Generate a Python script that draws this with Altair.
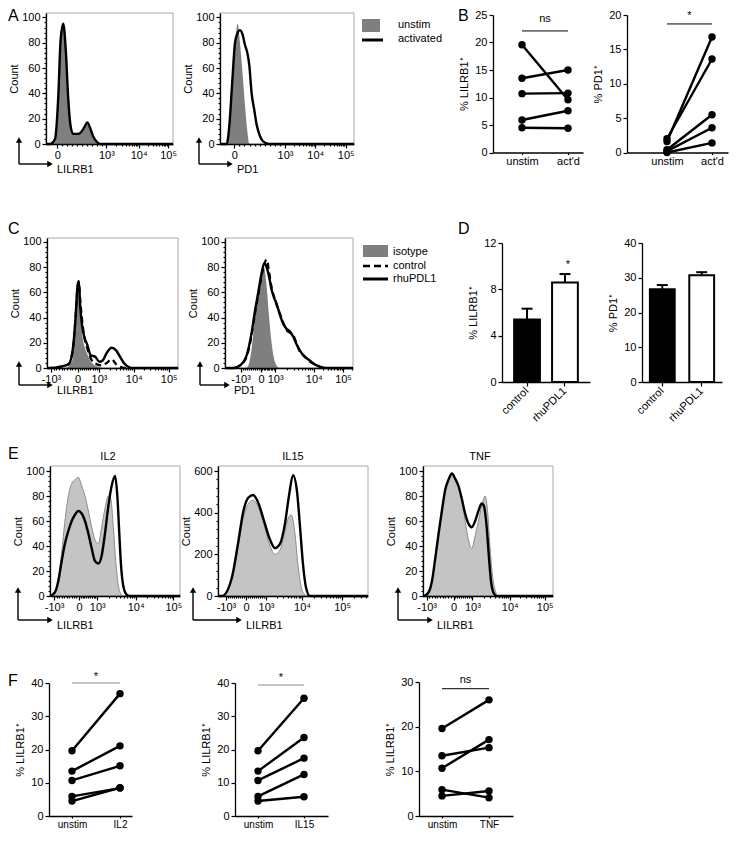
import math
import altair as alt
import pandas as pd

# ===================== DATA =====================
# Histogram x values are display channels (0-1000 across each plot frame), y = count

# --- A: LILRB1 (left) and PD1 (right), unstim (filled) vs activated (line)
A1_UNSTIM_X = [0, 31, 71, 97, 115, 136, 157, 175, 194, 215, 254, 288, 306, 325, 346, 372, 398, 424, 1000]
A1_UNSTIM_Y = [0, 0, 5, 40, 80, 94, 70, 35, 15, 9, 8, 10, 13, 15, 12, 6, 2, 0, 0]
A1_ACT_X = [0, 31, 71, 97, 115, 136, 157, 175, 194, 215, 254, 288, 306, 325, 346, 372, 398, 424, 1000]
A1_ACT_Y = [0, 0, 4, 38, 82, 95, 72, 36, 14, 8, 8, 11, 14, 17, 13, 6, 2, 0, 0]
A2_UNSTIM_X = [0, 50, 75, 100, 117, 132, 149, 169, 187, 204, 219, 1000]
A2_UNSTIM_Y = [0, 0, 20, 60, 85, 95, 80, 55, 30, 10, 0, 0]
A2_ACT_X = [0, 50, 70, 92, 112, 129, 149, 167, 187, 204, 219, 236, 254, 274, 299, 336, 373, 1000]
A2_ACT_Y = [0, 0, 15, 50, 80, 87, 90, 87, 78, 72, 62, 40, 28, 15, 6, 1, 0, 0]

A_LABELS = ["0", "10³", "10⁴", "10⁵"]
A1_TICKS = [89, 476, 730, 961]
A2_TICKS = [107, 485, 711, 938]

# --- C: isotype (filled), control (dashed), rhuPDL1 (solid)
C1_ISO_X = [0, 139, 190, 208, 223, 235, 243, 253, 266, 284, 304, 329, 354, 392, 430, 1000]
C1_ISO_Y = [0, 0, 5, 20, 45, 65, 68, 55, 30, 18, 12, 6, 3, 1, 0, 0]
C1_RHU_X = [0, 25, 101, 165, 197, 218, 233, 243, 253, 266, 284, 309, 334, 367, 400, 425, 456, 494, 527, 557, 587, 620, 646, 1000]
C1_RHU_Y = [0, 0, 1, 3, 15, 40, 65, 69, 50, 35, 25, 18, 10, 9, 5, 6, 12, 16, 14, 9, 4, 1, 0, 0]
C1_CTL_X = [0, 25, 101, 165, 197, 218, 233, 243, 253, 266, 284, 309, 342, 380, 418, 456, 494, 527, 557, 600, 1000]
C1_CTL_Y = [0, 0, 1, 3, 14, 40, 64, 68, 55, 40, 25, 15, 6, 3, 2, 4, 7, 3, 1, 0, 0]
C2_ISO_X = [0, 169, 208, 234, 260, 286, 304, 325, 345, 364, 382, 403, 423, 1000]
C2_ISO_Y = [0, 0, 15, 40, 60, 73, 80, 65, 40, 20, 8, 2, 0, 0]
C2_RHU_X = [0, 65, 117, 169, 208, 234, 260, 286, 306, 325, 345, 364, 382, 403, 429, 455, 481, 506, 532, 558, 584, 623, 662, 700, 740, 792, 1000]
C2_RHU_Y = [0, 0, 2, 10, 28, 45, 60, 75, 83, 80, 72, 62, 56, 51, 42, 35, 31, 29, 25, 19, 14, 9, 6, 3, 1, 0, 0]
C2_CTL_X = [0, 65, 117, 169, 208, 234, 260, 286, 306, 325, 345, 364, 382, 403, 429, 455, 481, 506, 532, 558, 584, 623, 662, 700, 740, 792, 1000]
C2_CTL_Y = [0, 0, 2, 9, 26, 43, 58, 73, 82, 86, 76, 64, 57, 50, 43, 36, 30, 28, 26, 20, 13, 9, 5, 3, 1, 0, 0]

C_LABELS = ["-10³", "0", "10³", "10⁴", "10⁵"]
C1_TICKS = [30, 233, 397, 663, 929]
C2_TICKS = [122, 281, 392, 694, 922]

# --- E: unstim (filled) vs cytokine (line)
E1_UN_X = [0, 38, 64, 90, 115, 141, 167, 192, 218, 244, 269, 295, 321, 346, 372, 397, 423, 449, 467, 487, 508, 526, 544, 564, 1000]
E1_UN_Y = [0, 3, 15, 35, 60, 80, 90, 93, 95, 88, 80, 68, 55, 45, 42, 55, 70, 80, 78, 55, 25, 8, 2, 0, 0]
E1_IL2_X = [0, 38, 64, 90, 115, 141, 167, 192, 218, 244, 269, 295, 321, 346, 372, 397, 423, 449, 474, 500, 518, 533, 546, 564, 590, 615, 1000]
E1_IL2_Y = [0, 3, 12, 28, 42, 52, 60, 65, 68, 66, 60, 50, 38, 28, 26, 32, 50, 72, 88, 96, 80, 50, 25, 8, 1, 0, 0]
E2_UN_X = [0, 27, 93, 133, 167, 200, 233, 267, 307, 347, 380, 413, 440, 467, 487, 513, 533, 553, 573, 600, 1000]
E2_UN_Y = [0, 0, 80, 230, 370, 440, 460, 430, 340, 240, 200, 220, 290, 370, 390, 300, 150, 50, 10, 0, 0]
E2_IL15_X = [0, 27, 93, 133, 167, 200, 233, 267, 307, 347, 380, 413, 447, 473, 500, 527, 547, 567, 587, 613, 1000]
E2_IL15_Y = [0, 0, 90, 250, 400, 470, 485, 450, 360, 270, 230, 250, 350, 480, 580, 500, 330, 150, 40, 0, 0]
E3_UN_X = [0, 5, 43, 69, 94, 120, 145, 171, 196, 222, 247, 273, 298, 324, 349, 375, 401, 426, 452, 477, 495, 515, 533, 554, 579, 1000]
E3_UN_Y = [0, 0, 3, 12, 30, 50, 68, 85, 93, 97, 93, 88, 78, 60, 45, 38, 48, 60, 72, 80, 70, 40, 18, 5, 0, 0]
E3_TNF_X = [0, 5, 43, 69, 94, 120, 145, 171, 196, 222, 247, 273, 298, 324, 349, 375, 401, 426, 452, 469, 490, 508, 523, 541, 566, 1000]
E3_TNF_Y = [0, 0, 3, 12, 30, 50, 68, 85, 93, 98, 94, 88, 78, 66, 58, 55, 60, 68, 74, 72, 55, 30, 12, 3, 0, 0]

E1_TICKS = [31, 223, 364, 659, 949]
E2_TICKS = [53, 187, 320, 560, 827]
E3_TICKS = [28, 235, 380, 668, 936]

# --- B / F: paired donors (% LILRB1+ / % PD1+)
UNSTIM_LILRB1 = [19.6, 13.5, 10.7, 5.9, 4.5]
ACTD_LILRB1 = [9.6, 15.0, 10.8, 7.6, 4.4]
UNSTIM_PD1 = [1.6, 2.0, 0.4, 0.2, 0.0]
ACTD_PD1 = [16.8, 13.6, 5.5, 3.6, 1.4]
IL2_LILRB1 = [36.8, 21.1, 15.1, 8.4, 8.5]
IL15_LILRB1 = [35.4, 23.6, 17.4, 12.5, 5.8]
TNF_LILRB1 = [26.0, 15.3, 17.1, 4.1, 5.6]

# --- D: bars (mean, SEM)
D_CATS = ["control", "rhuPDL1"]
D1_MEAN = [5.4, 8.6]
D1_SEM = [0.93, 0.72]
D2_MEAN = [26.7, 30.7]
D2_SEM = [1.2, 0.9]

# ===================== LAYOUT / STYLE =====================
OFF = 8
W, H = 721, 825
FONT = "Liberation Sans"
DARK_GRAY = "#7f7f7f"
LIGHT_GRAY = "#c4c4c4"
ONE = pd.DataFrame({"k": [0]})


def P(v):
    return v - OFF


def label_expr(vals, labels):
    expr = '""'
    for v, l in reversed(list(zip(vals, labels))):
        expr = f'datum.value == {v} ? "{l}" : ({expr})'
    return expr


def minor_positions(ticks):
    """Minor tick channels of a log-like cytometry axis, derived from its major ticks."""
    if len(ticks) == 5:
        tneg, t0, t3, t4, t5 = ticks
    else:
        tneg = None
        t0, t3, t4, t5 = ticks
    pos = []
    for v in range(100, 1000, 100):
        pos.append(t0 + v / 1000 * (t3 - t0))
        if tneg is not None:
            pos.append(t0 - v / 1000 * (t0 - tneg))
    for a, b in [(t3, t4), (t4, t5)]:
        for m in range(2, 10):
            pos.append(a + math.log10(m) * (b - a))
    for m in range(2, 10):
        p = t5 + math.log10(m) * (t5 - t4)
        if p < 1000:
            pos.append(p)
    return [round(p, 1) for p in pos if 0 <= p <= 1000]


def hist_panel(x0, x1, ybase, ytop, ymax, ymajor, yminor, xticks, xlabels,
               fills, lines, fill_color, fill_stroke=None):
    xs = alt.Scale(domain=[0, 1000], range=[P(x0), P(x1)])
    ys = alt.Scale(domain=[0, ymax], range=[P(ybase), P(ytop)])
    out = []
    out.append(alt.Chart(ONE).mark_rect(fillOpacity=0, stroke="#a8a8a8", strokeWidth=1).encode(
        x=alt.XDatum(0, scale=xs, axis=None), x2=alt.X2Datum(1000),
        y=alt.YDatum(ymax, scale=ys, axis=None), y2=alt.Y2Datum(0)))
    for fx, fy in fills:
        df = pd.DataFrame({"x": fx, "y": fy})
        if fill_stroke:
            m = alt.Chart(df).mark_area(fill=fill_color, stroke=fill_stroke, strokeWidth=1, interpolate="monotone")
        else:
            m = alt.Chart(df).mark_area(fill=fill_color, interpolate="monotone")
        out.append(m.encode(x=alt.X("x:Q", scale=xs, axis=None),
                            y=alt.Y("y:Q", scale=ys, axis=None)))
    for lx, ly, dashed in lines:
        df = pd.DataFrame({"x": lx, "y": ly})
        if dashed:
            m = alt.Chart(df).mark_line(color="black", strokeWidth=2.2, strokeDash=[6, 4], interpolate="monotone")
        else:
            m = alt.Chart(df).mark_line(color="black", strokeWidth=2.4, interpolate="monotone")
        out.append(m.encode(x=alt.X("x:Q", scale=xs, axis=None),
                            y=alt.Y("y:Q", scale=ys, axis=None)))
    xaxis = alt.Axis(values=xticks, labelExpr=label_expr(xticks, xlabels), orient="bottom",
                     offset=P(ybase) - H, tickSize=4, labelPadding=1, title=None,
                     labelFlush=False, labelOverlap=False, zindex=3)
    yaxis = alt.Axis(values=ymajor, orient="left", offset=-P(x0), tickSize=4, labelPadding=2,
                     title="Count", titlePadding=2, zindex=3)
    out.append(alt.Chart(ONE).mark_point(opacity=0).encode(
        x=alt.XDatum(0, scale=xs, axis=xaxis), y=alt.YDatum(0, scale=ys, axis=yaxis)))
    xminax = alt.Axis(values=minor_positions(xticks), orient="bottom", offset=P(ybase) - H,
                      tickSize=2, labels=False, domain=False, title=None, zindex=3)
    yminax = alt.Axis(values=yminor, orient="left", offset=-P(x0), tickSize=2, labels=False,
                      domain=False, title=None, zindex=3)
    out.append(alt.Chart(ONE).mark_point(opacity=0).encode(
        x=alt.XDatum(0, scale=xs, axis=xminax), y=alt.YDatum(0, scale=ys, axis=yminax)))
    return out


def pair_panel(unstim, stim, labels, yaxis_x, xend, cx0, cx1, ybase, ytop, ymax, yticks,
               ytitle, sig_y, sig_text, sig_text_y, sig_color, xlabel_size=11):
    k = cx1 - cx0
    xs = alt.Scale(domain=[(yaxis_x - cx0) / k, (xend - cx0) / k], range=[P(yaxis_x), P(xend)])
    ys = alt.Scale(domain=[0, ymax], range=[P(ybase), P(ytop)])
    n = len(unstim)
    df = pd.DataFrame({"donor": list(range(n)) * 2, "cond": [0] * n + [1] * n,
                       "value": list(unstim) + list(stim)})
    xaxis = alt.Axis(values=[0, 1], labelExpr=label_expr([0, 1], labels), orient="bottom",
                     offset=P(ybase) - H, tickSize=2, labelPadding=1, title=None,
                     labelFlush=False, labelFontSize=xlabel_size, zindex=3)
    yaxis = alt.Axis(values=yticks, orient="left", offset=-P(yaxis_x), tickSize=4, labelPadding=2,
                     title=ytitle, titlePadding=5, zindex=3)
    out = []
    out.append(alt.Chart(df).mark_line(color="black", strokeWidth=2.4).encode(
        x=alt.X("cond:Q", scale=xs, axis=xaxis), y=alt.Y("value:Q", scale=ys, axis=yaxis),
        detail="donor:N"))
    out.append(alt.Chart(df).mark_circle(color="black", size=55, opacity=1).encode(
        x=alt.X("cond:Q", scale=xs, axis=None), y=alt.Y("value:Q", scale=ys, axis=None)))
    out.append(alt.Chart(ONE).mark_rule(color=sig_color, strokeWidth=1).encode(
        x=alt.XDatum(0, scale=xs, axis=None), x2=alt.X2Datum(1),
        y=alt.YDatum(sig_y, scale=ys, axis=None)))
    out.append(alt.Chart(ONE).mark_text(text=sig_text, font=FONT, fontSize=11, baseline="middle").encode(
        x=alt.XDatum(0.5, scale=xs, axis=None), y=alt.YDatum(sig_text_y, scale=ys, axis=None)))
    return out


def bar_panel(means, sems, x0, x1, pin, pout, ybase, ytop, ymax, yticks, ytitle, star_y=None):
    xs = alt.Scale(domain=D_CATS, range=[P(x0), P(x1)], paddingInner=pin, paddingOuter=pout)
    ys = alt.Scale(domain=[0, ymax], range=[P(ybase), P(ytop)])
    df = pd.DataFrame({"cat": D_CATS, "mean": means, "top": [m + s for m, s in zip(means, sems)]})
    xaxis = alt.Axis(orient="bottom", offset=P(ybase) - H, labelAngle=315, labelAlign="right",
                     labelBaseline="middle", tickSize=4, labelPadding=3, title=None, zindex=3)
    yaxis = alt.Axis(values=yticks, orient="left", offset=-P(x0), tickSize=4, labelPadding=2,
                     title=ytitle, titlePadding=5, zindex=3)
    out = []
    out.append(alt.Chart(df).mark_rule(color="black", strokeWidth=2).encode(
        x=alt.X("cat:N", scale=xs, axis=None), y=alt.Y("mean:Q", scale=ys, axis=None), y2="top:Q"))
    out.append(alt.Chart(df).mark_tick(color="black", thickness=2, size=11, opacity=1).encode(
        x=alt.X("cat:N", scale=xs, axis=None), y=alt.Y("top:Q", scale=ys, axis=None)))
    out.append(alt.Chart(df).mark_bar(stroke="black", strokeWidth=2).encode(
        x=alt.X("cat:N", scale=xs, axis=xaxis), y=alt.Y("mean:Q", scale=ys, axis=yaxis),
        color=alt.Color("cat:N", scale=alt.Scale(domain=D_CATS, range=["black", "white"]), legend=None)))
    if star_y is not None:
        sdf = pd.DataFrame({"cat": [D_CATS[1]], "y": [star_y]})
        out.append(alt.Chart(sdf).mark_text(text="*", font=FONT, fontSize=11, baseline="middle").encode(
            x=alt.X("cat:N", scale=xs, axis=None), y=alt.Y("y:Q", scale=ys, axis=None)))
    return out


def text_at(x, y, txt, size=11, align="left", baseline="middle"):
    return alt.Chart(ONE).mark_text(text=txt, font=FONT, fontSize=size, align=align,
                                    baseline=baseline, color="black").encode(
        x=alt.value(P(x)), y=alt.value(P(y)))


def flow_arrow(xv, ycorner, ytip, xtip, label):
    out = []
    out.append(alt.Chart(ONE).mark_rule(color="black", strokeWidth=1.4).encode(
        x=alt.value(P(xv)), y=alt.value(P(ycorner)), y2=alt.value(P(ytip) + 4)))
    out.append(alt.Chart(ONE).mark_rule(color="black", strokeWidth=1.4).encode(
        x=alt.value(P(xv)), x2=alt.value(P(xtip) - 4), y=alt.value(P(ycorner))))
    out.append(alt.Chart(ONE).mark_point(shape="triangle-up", filled=True, color="black",
                                         size=40, opacity=1).encode(
        x=alt.value(P(xv)), y=alt.value(P(ytip) + 3)))
    out.append(alt.Chart(ONE).mark_point(shape="triangle-right", filled=True, color="black",
                                         size=40, opacity=1).encode(
        x=alt.value(P(xtip) - 3), y=alt.value(P(ycorner))))
    out.append(text_at(xtip + 4, ycorner + 6, label))
    return out


HIST_MAJOR = [0, 20, 40, 60, 80, 100]
HIST_MINOR = [v for v in range(0, 101, 4) if v % 20]
E2_MAJOR = [0, 200, 400, 600]
E2_MINOR = [v for v in range(0, 601, 40) if v % 200]

layers = []

# ---- A
layers += hist_panel(46, 173, 144, 13, 103.5, HIST_MAJOR, HIST_MINOR, A1_TICKS, A_LABELS,
                     [(A1_UNSTIM_X, A1_UNSTIM_Y)], [(A1_ACT_X, A1_ACT_Y, False)], DARK_GRAY)
layers += hist_panel(220, 354, 144, 13, 103.5, HIST_MAJOR, HIST_MINOR, A2_TICKS, A_LABELS,
                     [(A2_UNSTIM_X, A2_UNSTIM_Y)], [(A2_ACT_X, A2_ACT_Y, False)], DARK_GRAY)
layers += flow_arrow(19, 164, 137, 53, "LILRB1")
layers += flow_arrow(199, 164, 137, 233, "PD1")
layers.append(alt.Chart(ONE).mark_rect(color=DARK_GRAY).encode(
    x=alt.value(P(362)), x2=alt.value(P(380)), y=alt.value(P(19)), y2=alt.value(P(32))))
layers.append(alt.Chart(ONE).mark_rule(color="black", strokeWidth=3).encode(
    x=alt.value(P(362)), x2=alt.value(P(383)), y=alt.value(P(40))))
layers.append(text_at(398, 25, "unstim"))
layers.append(text_at(398, 39, "activated"))

# ---- B
layers += pair_panel(UNSTIM_LILRB1, ACTD_LILRB1, ["unstim", "act'd"], 493, 583, 522, 568,
                     152.5, 15, 25, [0, 5, 10, 15, 20, 25], "% LILRB1⁺", 22.1, "ns", 24.3, "black")
layers += pair_panel(UNSTIM_PD1, ACTD_PD1, ["unstim", "act'd"], 627, 728, 667, 712,
                     152.5, 15, 20, [0, 5, 10, 15, 20], "% PD1⁺", 18.7, "*", 19.8, "black")

# ---- C
layers += hist_panel(47, 178, 368, 238, 103, HIST_MAJOR, HIST_MINOR, C1_TICKS, C_LABELS,
                     [(C1_ISO_X, C1_ISO_Y)],
                     [(C1_CTL_X, C1_CTL_Y, True), (C1_RHU_X, C1_RHU_Y, False)], DARK_GRAY)
layers += hist_panel(225, 353, 368, 238, 103, HIST_MAJOR, HIST_MINOR, C2_TICKS, C_LABELS,
                     [(C2_ISO_X, C2_ISO_Y)],
                     [(C2_CTL_X, C2_CTL_Y, True), (C2_RHU_X, C2_RHU_Y, False)], DARK_GRAY)
layers += flow_arrow(19, 385, 361, 53, "LILRB1")
layers += flow_arrow(200, 385, 361, 230, "PD1")
layers.append(alt.Chart(ONE).mark_rect(color=DARK_GRAY).encode(
    x=alt.value(P(363)), x2=alt.value(P(388)), y=alt.value(P(245)), y2=alt.value(P(257))))
layers.append(alt.Chart(ONE).mark_rule(color="black", strokeWidth=2.5, strokeDash=[7, 4]).encode(
    x=alt.value(P(363)), x2=alt.value(P(388)), y=alt.value(P(266))))
layers.append(alt.Chart(ONE).mark_rule(color="black", strokeWidth=3).encode(
    x=alt.value(P(363)), x2=alt.value(P(388)), y=alt.value(P(279))))
layers.append(text_at(393, 252, "isotype"))
layers.append(text_at(393, 266, "control"))
layers.append(text_at(393, 279, "rhuPDL1"))

# ---- D
layers += bar_panel(D1_MEAN, D1_SEM, 502, 590, 0.32, 0.32, 382, 243, 12, [0, 4, 8, 12],
                    "% LILRB1⁺", star_y=10.1)
layers += bar_panel(D2_MEAN, D2_SEM, 642, 722, 0.37, 0.2, 382, 243, 40, [0, 10, 20, 30, 40],
                    "% PD1⁺")

# ---- E
layers += hist_panel(50, 180, 596, 466, 104, HIST_MAJOR, HIST_MINOR, E1_TICKS, C_LABELS,
                     [(E1_UN_X, E1_UN_Y)], [(E1_IL2_X, E1_IL2_Y, False)], LIGHT_GRAY, "#8c8c8c")
layers += hist_panel(218, 368, 596, 466, 624, E2_MAJOR, E2_MINOR, E2_TICKS, C_LABELS,
                     [(E2_UN_X, E2_UN_Y)], [(E2_IL15_X, E2_IL15_Y, False)], LIGHT_GRAY, "#8c8c8c")
layers += hist_panel(423, 553, 596, 466, 104, HIST_MAJOR, HIST_MINOR, E3_TICKS, C_LABELS,
                     [(E3_UN_X, E3_UN_Y)], [(E3_TNF_X, E3_TNF_Y, False)], LIGHT_GRAY, "#8c8c8c")
layers += flow_arrow(18, 620, 587, 53, "LILRB1")
layers += flow_arrow(193, 620, 587, 242, "LILRB1")
layers += flow_arrow(398, 620, 587, 433, "LILRB1")
layers.append(text_at(108, 457, "IL2", 11, "center"))
layers.append(text_at(293, 457, "IL15", 11, "center"))
layers.append(text_at(480, 457, "TNF", 11, "center"))

# ---- F
layers += pair_panel(UNSTIM_LILRB1, IL2_LILRB1, ["unstim", "IL2"], 49, 132, 72, 120,
                     816, 683, 40, [0, 10, 20, 30, 40], "% LILRB1⁺", 40, "*", 41.8, "#8a8a8a", 10)
layers += pair_panel(UNSTIM_LILRB1, IL15_LILRB1, ["unstim", "IL15"], 235, 328, 258, 304,
                     816, 683, 40, [0, 10, 20, 30, 40], "% LILRB1⁺", 39.4, "*", 41.5, "#8a8a8a", 10)
layers += pair_panel(UNSTIM_LILRB1, TNF_LILRB1, ["unstim", "TNF"], 419, 513, 442, 489,
                     816, 682, 30, [0, 10, 20, 30], "% LILRB1⁺", 28.5, "ns", 30.4, "black", 10)

# ---- panel letters
for letter, lx, ly in [("A", 8, 21), ("B", 458, 21), ("C", 8, 234), ("D", 458, 234),
                       ("E", 8, 459), ("F", 8, 686)]:
    layers.append(text_at(lx, ly, letter, 16, "left", "alphabetic"))

chart = alt.layer(*layers).resolve_scale(x="independent", y="independent").properties(
    width=W, height=H, autosize=alt.AutoSizeParams(type="none"), padding=0
).configure_axis(
    labelFont=FONT, titleFont=FONT, labelFontSize=11, titleFontSize=11,
    titleFontWeight="normal", grid=False, domainColor="black", tickColor="black",
    labelColor="black", titleColor="black", domainWidth=1.3, tickWidth=1.2
).configure_view(strokeWidth=0)

chart.save("out.html", embed_options={"renderer": "svg", "actions": False})
